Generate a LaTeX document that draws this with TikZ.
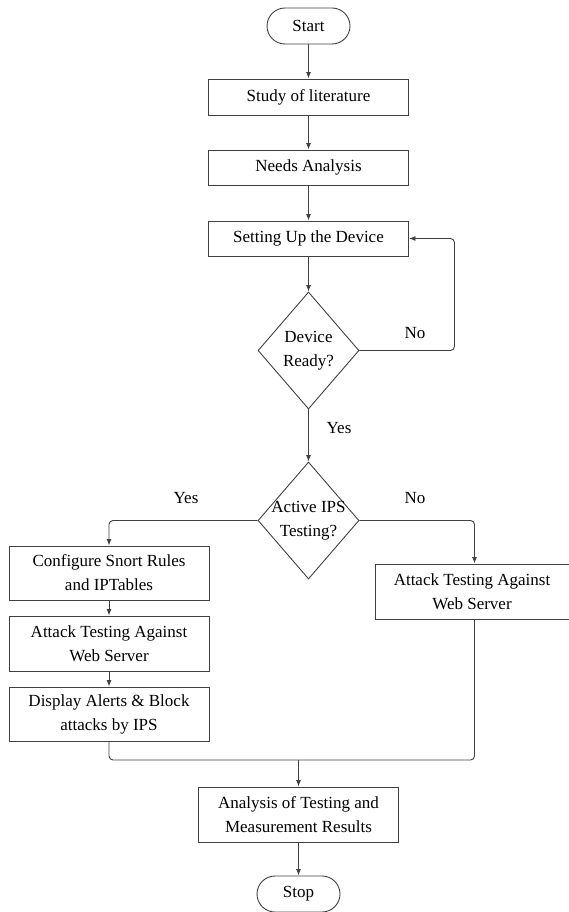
\documentclass[tikz,border=0pt]{standalone}
\usepackage{fontspec}
\setmainfont{Liberation Serif}
\usetikzlibrary{shapes.geometric,arrows.meta}
\tikzset{
	box/.style = {draw=black!75, line width=0.9pt, minimum width=200pt, align=center, inner sep=0pt},
	term/.style = {draw=black!75, line width=0.9pt, minimum width=83pt, minimum height=36pt, rounded corners=18pt},
	dia/.style = {draw=black!75, line width=0.9pt, diamond, aspect=0.86, inner sep=-6pt, minimum width=101pt, minimum height=117pt, align=center},
	flow/.style = {draw=black!75, line width=0.9pt, rounded corners=4pt},
	arr/.style = {flow, -{Latex[length=6.5pt,width=5pt]}}
}
\begin{document}
\begin{tikzpicture}[x=1pt, y=-1pt, font=\fontsize{17}{24}\selectfont]
					\useasboundingbox (0,0) rectangle (569,912);
					\node[term] (start) at (308.5,26) {Start};
					\node[box, minimum height=36pt] (study) at (308.5,97) {Study of literature};
					\node[box, minimum height=35pt] (needs) at (308.5,167.5) {Needs Analysis};
					\node[box, minimum height=35pt] (setup) at (308.5,238.5) {Setting Up the Device};
					\node[dia] (ready) at (308.5,350.5) {Device\\Ready?};
					\node[dia] (ips) at (308.5,520.5) {Active IPS\\Testing?};
					\node[box, minimum height=54pt] (config) at (109,573) {Configure Snort Rules\\and IPTables};
					\node[box, minimum height=55pt] (attackL) at (109,643.5) {Attack Testing Against\\Web Server};
					\node[box, minimum height=54pt] (display) at (109,714) {Display Alerts \& Block\\attacks by IPS};
					\node[box, minimum width=194pt, minimum height=55pt] (attackR) at (472,591.5) {Attack Testing Against\\Web Server};
					\node[box, minimum height=55pt] (analysis) at (298.5,814.5) {Analysis of Testing and\\Measurement Results};
					\node[term] (stop) at (298.5,894) {Stop};
					\coordinate (merge) at (298.5,760);
					\draw[arr] (start) -- (study);
					\draw[arr] (study) -- (needs);
					\draw[arr] (needs) -- (setup);
					\draw[arr] (setup) -- (ready);
					\draw[arr] (ready) -- (ips);
					\draw[arr] (ready.east) -- ++(95,0) |- (setup.east);
					\draw[arr] (ips.west) -| (config.north);
					\draw[arr] (ips.east) -| ([xshift=2.5pt]attackR.north);
					\draw[arr] (config) -- (attackL);
					\draw[arr] (attackL) -- (display);
					\draw[flow] (display.south) |- (merge);
					\draw[flow] ([xshift=2.5pt]attackR.south) |- (merge);
					\draw[arr] (merge) -- (analysis);
					\draw[arr] (analysis) -- (stop);
					\node (noA) at (415,333) {No};
					\node (yesA) at (339,428) {Yes};
					\node (yesB) at (186,498) {Yes};
					\node (noB) at (415,498) {No};
				\end{tikzpicture}
\end{document}
